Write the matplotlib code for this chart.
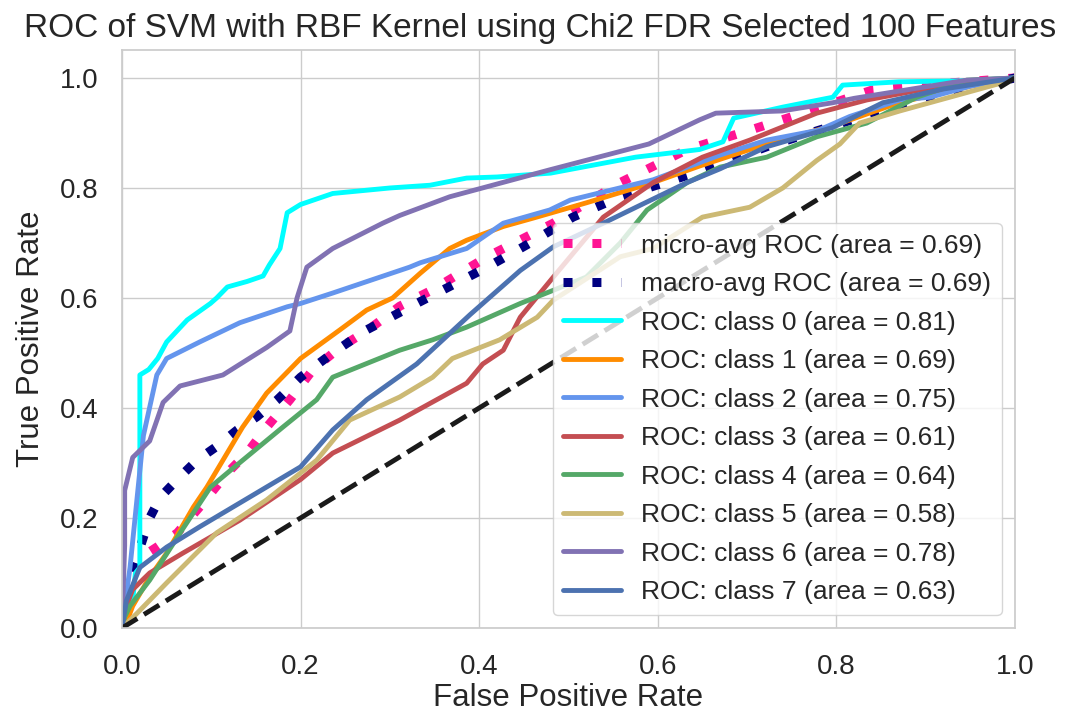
import numpy as np
import matplotlib
matplotlib.use('Agg')
import matplotlib.pyplot as plt
import seaborn as sns

# ROC curve points (fpr, tpr)
micro_fpr = [0, .005, .017, .039, .062, .087, .118, .14, .162, .188, .214, .244, .274, .311,
             .348, .409, .483, .558, .633, .703, .77, .84, .92, 1]
micro_tpr = [0, .08, .124, .147, .173, .22, .282, .318, .365, .415, .47, .51, .54, .585,
             .615, .675, .736, .81, .87, .905, .94, .978, .99, 1]
macro_fpr = [0, .005, .031, .043, .065, .084, .106, .129, .151, .174, .2, .236, .274, .33,
             .409, .457, .505, .558, .647, .722, .8, .9, 1]
macro_tpr = [0, .07, .2, .238, .275, .305, .33, .36, .384, .415, .456, .5, .542, .59,
             .656, .70, .747, .784, .83, .875, .915, .965, 1]

fpr_0 = [0, .005, .012, .015, .02, .02, .03, .04, .05, .073, .099, .106, .118, .14, .158, .165,
         .177, .185, .2, .236, .3, .345, .386, .42, .48, .575, .647, .673, .685, .74, .796, .807,
         .87, .95, 1]
tpr_0 = [0, .02, .05, .1, .11, .46, .47, .49, .52, .56, .59, .60, .62, .63, .64, .66,
         .69, .755, .77, .79, .80, .805, .818, .82, .827, .856, .87, .884, .927, .947, .965, .987,
         .993, .995, 1]
fpr_1 = [0, .005, .012, .03, .05, .08, .095, .113, .135, .162, .2, .244, .274, .303, .334, .367,
         .386, .427, .46, .52, .595, .647, .722, .8, .87, .95, 1]
tpr_1 = [0, .01, .04, .09, .136, .22, .256, .305, .365, .427, .49, .542, .578, .60, .645, .69,
         .705, .73, .745, .773, .81, .84, .88, .915, .955, .985, 1]
fpr_2 = [0, .004, .009, .024, .039, .05, .087, .132, .185, .2, .236, .322, .334, .386, .427,
         .479, .502, .595, .67, .722, .78, .815, .871, .905, .95, 1]
tpr_2 = [0, .05, .11, .35, .46, .49, .52, .555, .584, .59, .609, .656, .664, .69, .736,
         .76, .778, .815, .86, .887, .905, .93, .96, .965, .985, 1]
fpr_3 = [0, .005, .012, .031, .068, .132, .2, .236, .311, .386, .404, .427, .446, .483, .539,
         .595, .65, .703, .778, .834, .9, 1]
tpr_3 = [0, .04, .07, .10, .136, .196, .27, .318, .378, .445, .48, .505, .565, .638, .747,
         .81, .856, .887, .936, .96, .98, 1]
fpr_4 = [0, .003, .009, .031, .068, .099, .124, .18, .218, .236, .311, .348, .386, .446, .52,
         .558, .588, .633, .67, .722, .778, .834, .89, .946, 1]
tpr_4 = [0, .02, .04, .087, .18, .256, .29, .365, .415, .456, .505, .524, .547, .59, .638,
         .70, .76, .81, .838, .856, .893, .918, .965, .996, 1]
fpr_5 = [0, .017, .05, .106, .162, .218, .255, .311, .348, .37, .423, .465, .483, .558, .595,
         .65, .703, .74, .778, .804, .826, .871, .927, .983, 1]
tpr_5 = [0, .027, .082, .173, .233, .305, .378, .42, .456, .49, .524, .565, .596, .675, .69,
         .747, .765, .80, .85, .88, .918, .94, .965, .99, 1]
fpr_6 = [0, .003, .003, .012, .031, .046, .065, .113, .162, .188, .196, .207, .236, .292, .311,
         .367, .479, .59, .647, .665, .739, .796, .82, .946, 1]
tpr_6 = [0, .15, .25, .31, .34, .41, .44, .46, .51, .54, .60, .656, .69, .736, .75,
         .784, .833, .88, .924, .936, .94, .955, .963, .996, 1]
fpr_7 = [0, .005, .02, .05, .087, .143, .2, .236, .274, .33, .39, .446, .483, .539, .577,
         .633, .67, .722, .796, .852, .92, 1]
tpr_7 = [0, .05, .11, .147, .184, .238, .293, .36, .415, .48, .57, .65, .693, .736, .766,
         .81, .835, .875, .91, .955, .98, 1]

class_fpr = [fpr_0, fpr_1, fpr_2, fpr_3, fpr_4, fpr_5, fpr_6, fpr_7]
class_tpr = [tpr_0, tpr_1, tpr_2, tpr_3, tpr_4, tpr_5, tpr_6, tpr_7]
class_auc = [0.81, 0.69, 0.75, 0.61, 0.64, 0.58, 0.78, 0.63]
micro_auc = 0.69
macro_auc = 0.69
colors = ['aqua', 'darkorange', 'cornflowerblue', 'r', 'g', 'y', 'm', 'b']


def main():
    sns.set(style='whitegrid', font_scale=1.5, color_codes=True)
    plt.rcParams['font.family'] = ['Liberation Sans', 'DejaVu Sans']

    fig = plt.figure(figsize=(10.72, 7.21), dpi=100)
    ax = fig.add_axes([0.1138, 0.129, 0.833, 0.801])

    ax.plot(micro_fpr, micro_tpr, color='deeppink', linestyle=(0, (1, 2.2)), linewidth=6.5,
            label='micro-avg ROC (area = {0:0.2f})'.format(micro_auc))
    ax.plot(macro_fpr, macro_tpr, color='navy', linestyle=(0, (1, 2.2)), linewidth=6.5,
            label='macro-avg ROC (area = {0:0.2f})'.format(macro_auc))

    for i, color in enumerate(colors):
        ax.plot(class_fpr[i], class_tpr[i], color=color, linewidth=3.5,
                label='ROC: class {0} (area = {1:0.2f})'.format(i, class_auc[i]))

    ax.plot([0, 1], [0, 1], 'k--', linewidth=3.5)
    ax.set_xlim([0.0, 1.0])
    ax.set_ylim([0.0, 1.05])
    ax.tick_params(axis='x', labelsize=20, pad=13)
    ax.tick_params(axis='y', labelsize=20, pad=11)
    ax.set_xlabel('False Positive Rate', fontsize=22.5, labelpad=2)
    ax.set_ylabel('True Positive Rate', fontsize=22.5, labelpad=10)
    ax.set_title('ROC of SVM with RBF Kernel using Chi2 FDR Selected 100 Features',
                 fontsize=24, x=0.468, pad=10)
    ax.legend(loc='lower right', fontsize=19, labelspacing=0.55,
              handlelength=2.2, handletextpad=0.75)

    fig.savefig('out.png', dpi=100)
    plt.close(fig)


if __name__ == '__main__':
    main()
